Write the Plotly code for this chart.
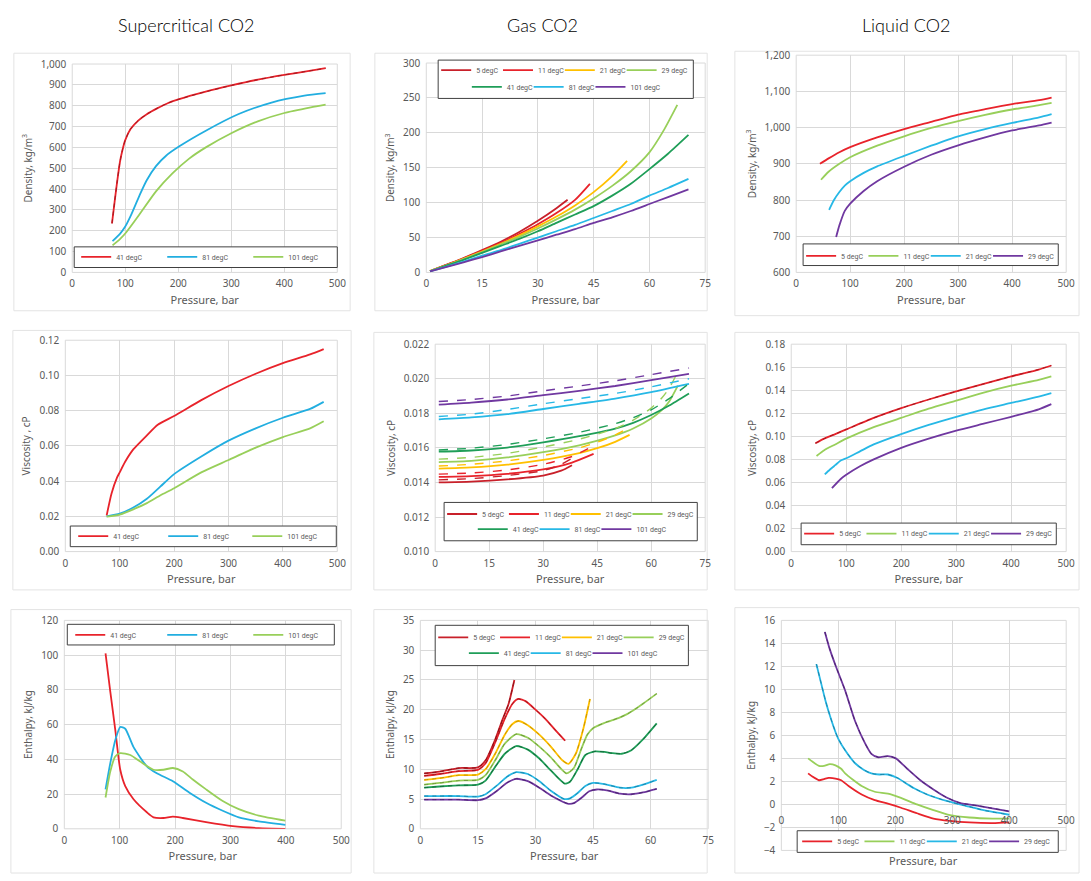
import plotly.graph_objects as go

W, H = 1091, 881

# ---------------- DATA ----------------
# Supercritical CO2 - density (kg/m3) vs pressure (bar)
sc_rho_p_41 = [75, 80, 85, 90, 95, 100, 110, 125, 140, 160, 180, 200, 250, 300, 350, 400, 450, 478]
sc_rho_41 = [235, 340, 440, 530, 590, 635, 688, 730, 758, 787, 812, 830, 866, 897, 925, 948, 968, 980]
sc_rho_p_81 = [76, 90, 100, 110, 127, 140, 158, 177, 202, 252, 314, 376, 438, 478]
sc_rho_81 = [150, 185, 220, 270, 370, 440, 510, 560, 605, 680, 760, 815, 848, 860]
sc_rho_p_101 = [76, 90, 102, 127, 158, 189, 220, 252, 300, 350, 400, 450, 478]
sc_rho_101 = [130, 160, 193, 279, 389, 475, 545, 600, 668, 725, 765, 792, 805]

# Gas CO2 - density
g_rho_p_5 = [1, 5, 10, 15, 20, 25, 30, 35, 38]
g_rho_5 = [2, 10, 20.5, 32, 44, 58, 74, 92, 104]
g_rho_p_11 = [1, 5, 10, 15, 20, 25, 30, 35, 40, 44]
g_rho_11 = [2, 10, 20, 31, 42, 55, 69, 85, 104, 127]
g_rho_p_21 = [1, 5, 10, 15, 20, 25, 30, 35, 40, 45, 50, 54]
g_rho_21 = [2, 9.5, 19.5, 30, 41, 53, 66, 80, 96, 115, 138, 160]
g_rho_p_29 = [1, 5, 10, 15, 20, 25, 30, 35, 40, 45, 50, 55, 60, 64, 67.5]
g_rho_29 = [1.8, 9.3, 19, 29, 40, 51, 63, 76, 90, 106, 124, 145, 172, 205, 240]
g_rho_p_41 = [1, 5, 10, 15, 20, 25, 30, 35, 40, 45, 50, 55, 60, 65, 70.5]
g_rho_41 = [1.7, 9, 18, 28, 38, 48, 59, 71, 83, 95, 110, 127, 148, 170, 197]
g_rho_p_81 = [1, 5, 10, 15, 20, 25, 30, 35, 40, 45, 50, 55, 60, 65, 70.5]
g_rho_81 = [1.5, 7.7, 15.5, 24, 32, 41, 50, 59, 68, 78, 88, 98, 110, 121, 134]
g_rho_p_101 = [1, 5, 10, 15, 20, 25, 30, 35, 40, 45, 50, 55, 60, 65, 70.5]
g_rho_101 = [1.4, 7.2, 14.5, 22, 30, 38, 46, 54, 62, 71, 79, 88, 98, 108, 119]

# Liquid CO2 - density
l_rho_p_5 = [44, 60, 80, 100, 150, 200, 250, 300, 350, 400, 450, 473]
l_rho_5 = [900, 915, 932, 946, 973, 996, 1016, 1036, 1051, 1065, 1076, 1083]
l_rho_p_11 = [46, 60, 80, 100, 150, 200, 250, 300, 350, 400, 450, 473]
l_rho_11 = [856, 878, 900, 918, 950, 976, 999, 1018, 1035, 1050, 1062, 1068]
l_rho_p_21 = [61, 70, 80, 90, 100, 125, 150, 200, 250, 300, 350, 400, 450, 473]
l_rho_21 = [773, 800, 822, 840, 852, 875, 893, 922, 950, 976, 996, 1013, 1028, 1037]
l_rho_p_29 = [74, 80, 90, 100, 125, 150, 200, 250, 300, 350, 400, 450, 473]
l_rho_29 = [698, 730, 770, 790, 825, 852, 892, 925, 951, 973, 992, 1006, 1014]

# Supercritical CO2 - viscosity (cP)
sc_mu_p_41 = [76, 85, 95, 100, 110, 125, 150, 170, 200, 250, 300, 350, 400, 450, 475]
sc_mu_41 = [0.0205, 0.033, 0.042, 0.045, 0.051, 0.058, 0.066, 0.072, 0.077, 0.086, 0.094, 0.101, 0.107, 0.112, 0.115]
sc_mu_p_81 = [76, 100, 125, 150, 175, 200, 250, 300, 350, 400, 450, 475]
sc_mu_81 = [0.020, 0.0215, 0.025, 0.030, 0.037, 0.044, 0.054, 0.063, 0.070, 0.076, 0.081, 0.085]
sc_mu_p_101 = [76, 100, 125, 150, 175, 200, 250, 300, 350, 400, 450, 475]
sc_mu_101 = [0.0198, 0.021, 0.024, 0.0275, 0.032, 0.036, 0.045, 0.052, 0.059, 0.065, 0.070, 0.074]

# Gas CO2 - viscosity, model A (solid) and model B (dashed)
g_mu_p_5 = [1, 10, 20, 30, 35, 38]
g_mu_5 = [0.01400, 0.01405, 0.01418, 0.01440, 0.01468, 0.01500]
g_mu_5b = [0.01415, 0.01422, 0.01440, 0.01468, 0.01505, 0.01540]
g_mu_p_11 = [1, 10, 20, 30, 38, 44]
g_mu_11 = [0.01432, 0.01437, 0.01450, 0.01475, 0.01515, 0.01565]
g_mu_11b = [0.01448, 0.01455, 0.01472, 0.01505, 0.01550, 0.01612]
g_mu_p_21 = [1, 10, 20, 30, 40, 45, 50, 54]
g_mu_21 = [0.01480, 0.01487, 0.01503, 0.01530, 0.01570, 0.01598, 0.01635, 0.01675]
g_mu_21b = [0.01495, 0.01505, 0.01525, 0.01556, 0.01600, 0.01632, 0.01675, 0.01720]
g_mu_p_29 = [1, 10, 20, 30, 40, 50, 55, 60, 63, 65, 67.4]
g_mu_29 = [0.01518, 0.01525, 0.01545, 0.01575, 0.01615, 0.01672, 0.01712, 0.01770, 0.01820, 0.01868, 0.01960]
g_mu_29b = [0.01535, 0.01545, 0.01568, 0.01605, 0.01650, 0.01712, 0.01760, 0.01830, 0.01890, 0.01945, 0.02040]
g_mu_p_41 = [1, 10, 20, 30, 40, 50, 55, 60, 65, 70.5]
g_mu_41 = [0.01578, 0.01585, 0.01602, 0.01632, 0.01668, 0.01712, 0.01745, 0.01790, 0.01845, 0.01915]
g_mu_41b = [0.01588, 0.01598, 0.01620, 0.01652, 0.01690, 0.01740, 0.01775, 0.01820, 0.01885, 0.01972]
g_mu_p_81 = [1, 10, 20, 30, 40, 50, 60, 70.5]
g_mu_81 = [0.01765, 0.01776, 0.01795, 0.01825, 0.01855, 0.01885, 0.01922, 0.01970]
g_mu_81b = [0.01782, 0.01795, 0.01822, 0.01855, 0.01885, 0.01915, 0.01953, 0.02000]
g_mu_p_101 = [1, 10, 20, 30, 40, 50, 60, 70.5]
g_mu_101 = [0.01850, 0.01862, 0.01880, 0.01905, 0.01930, 0.01958, 0.01992, 0.02028]
g_mu_101b = [0.01868, 0.01880, 0.01900, 0.01930, 0.01958, 0.01988, 0.02024, 0.02062]

# Liquid CO2 - viscosity
l_mu_p_5 = [44, 60, 80, 100, 150, 200, 250, 300, 350, 400, 450, 473]
l_mu_5 = [0.094, 0.098, 0.102, 0.106, 0.116, 0.1245, 0.132, 0.139, 0.1455, 0.152, 0.158, 0.1615]
l_mu_p_11 = [46, 60, 80, 100, 150, 200, 250, 300, 350, 400, 450, 473]
l_mu_11 = [0.083, 0.088, 0.093, 0.098, 0.108, 0.116, 0.124, 0.131, 0.138, 0.144, 0.149, 0.152]
l_mu_p_21 = [61, 70, 80, 90, 100, 125, 150, 200, 250, 300, 350, 400, 450, 473]
l_mu_21 = [0.067, 0.071, 0.075, 0.079, 0.081, 0.087, 0.093, 0.102, 0.110, 0.117, 0.1235, 0.129, 0.1345, 0.1375]
l_mu_p_29 = [74, 90, 100, 125, 150, 200, 250, 300, 350, 400, 450, 473]
l_mu_29 = [0.055, 0.063, 0.0666, 0.074, 0.080, 0.090, 0.098, 0.105, 0.111, 0.117, 0.1235, 0.128]

# Supercritical CO2 - enthalpy (kJ/kg)
sc_h_p_41 = [74.4, 83, 92, 101, 110, 125, 149, 161, 179, 196, 214, 256, 304, 351, 399]
sc_h_41 = [101, 79, 57, 34, 24.6, 17, 9.5, 6.6, 6.2, 7, 6.2, 3.8, 1.5, 0.4, 0]
sc_h_p_81 = [74.4, 83, 92, 101, 110, 125, 149, 167, 196, 226, 256, 286, 315, 351, 399]
sc_h_81 = [22.7, 37.8, 51, 58.6, 57.6, 47, 36, 32, 27.4, 20.8, 15, 10.4, 6.6, 4.3, 2.3]
sc_h_p_101 = [74.4, 83, 92, 101, 119, 137, 161, 179, 196, 214, 232, 256, 286, 315, 351, 399]
sc_h_101 = [18, 33, 41.6, 43.5, 42.5, 38.7, 34, 34, 35, 33, 28.4, 22.7, 16, 11.3, 7.6, 4.7]

# Gas CO2 - enthalpy
g_h_p_5 = [1, 5, 10, 15, 17, 19.5, 21.5, 23, 24.5]
g_h_5 = [9.3, 9.6, 10.2, 10.3, 11.5, 15.0, 18.5, 21.0, 25.0]
g_h_p_11 = [1, 5, 10, 15, 17, 19.5, 22, 24, 25.5, 27.5, 30, 32.5, 35, 37.7]
g_h_11 = [8.9, 9.2, 9.7, 9.9, 11.0, 14.5, 18.5, 21.0, 21.8, 21.4, 20.0, 18.5, 16.7, 14.8]
g_h_p_21 = [1, 5, 10, 15, 17, 19.5, 22, 24, 25.5, 28, 31, 34, 37, 38.6, 40.5, 42.5, 44.2]
g_h_21 = [8.2, 8.5, 9.0, 9.1, 10.0, 12.6, 15.8, 17.6, 18.1, 17.4, 15.8, 13.8, 11.5, 10.9, 12.6, 16.9, 21.8]
g_h_p_29 = [1, 5, 10, 15, 17, 19.5, 22, 25, 28, 31, 34, 38.1, 40, 42, 43.5, 45, 48, 51.6, 54, 56, 58, 61.6]
g_h_29 = [7.4, 7.7, 8.1, 8.2, 9.0, 11.5, 14.3, 15.9, 15.3, 13.8, 12.0, 9.3, 10.2, 13.5, 15.8, 16.9, 17.8, 18.6, 19.3, 20.1, 21.0, 22.7]
g_h_p_41 = [1, 5, 10, 15, 17, 19.5, 22, 25, 28, 31, 34, 37.6, 39, 41, 43, 45.5, 48, 50, 52.5, 55, 58, 61.6]
g_h_41 = [6.9, 7.1, 7.3, 7.4, 8.1, 10.4, 12.6, 13.9, 13.3, 11.8, 9.8, 7.6, 7.9, 10.0, 12.4, 13.0, 12.9, 12.7, 12.6, 13.2, 15.0, 17.7]
g_h_p_81 = [1, 5, 10, 15, 17, 20, 22.5, 25, 28, 31, 34, 37.5, 39, 41, 43, 45, 48, 52, 55, 58, 61.6]
g_h_81 = [5.5, 5.5, 5.5, 5.4, 5.8, 7.3, 8.7, 9.5, 9.2, 8.0, 6.4, 5.0, 5.1, 6.0, 7.2, 7.7, 7.5, 6.9, 6.9, 7.4, 8.2]
g_h_p_101 = [1, 5, 10, 15, 17, 20, 22.5, 25, 28, 31, 34, 38.6, 40, 42, 44, 46, 49, 52, 55, 58, 61.6]
g_h_101 = [4.9, 4.9, 4.9, 4.8, 5.1, 6.4, 7.7, 8.4, 8.0, 6.9, 5.6, 4.2, 4.3, 5.2, 6.3, 6.6, 6.4, 5.9, 5.8, 6.1, 6.7]

# Liquid CO2 - enthalpy
l_h_p_5 = [47, 55, 66, 75, 83, 95, 105, 118, 141, 164, 187, 210, 238, 267, 296, 330, 371, 400]
l_h_5 = [2.7, 2.4, 2.1, 2.2, 2.3, 2.25, 2.1, 1.6, 0.86, 0.37, 0.06, -0.29, -0.77, -1.23, -1.43, -1.57, -1.63, -1.57]
l_h_p_11 = [47, 55, 66, 75, 85, 95, 105, 112, 141, 164, 187, 210, 238, 267, 296, 330, 371, 400]
l_h_11 = [4.0, 3.7, 3.35, 3.35, 3.5, 3.4, 3.1, 2.7, 1.6, 1.1, 0.94, 0.57, 0.0, -0.5, -0.94, -1.14, -1.23, -1.23]
l_h_p_21 = [61.5, 70, 77.6, 86, 95, 100, 112, 129, 145, 158, 172, 187, 204, 220, 233, 256, 290, 325, 359, 400]
l_h_21 = [12.2, 10.5, 9.0, 7.6, 6.3, 5.7, 4.7, 3.6, 3.0, 2.7, 2.6, 2.6, 2.3, 1.8, 1.4, 0.86, 0.3, -0.14, -0.55, -0.9]
l_h_p_29 = [76.4, 85, 95, 112, 129, 147, 158, 170, 187, 201, 221, 244, 267, 290, 313, 348, 400]
l_h_29 = [15.0, 13.5, 12.1, 9.9, 7.3, 5.3, 4.4, 4.1, 4.2, 4.0, 3.1, 2.1, 1.3, 0.6, 0.14, -0.14, -0.6]

col_titles = ["Supercritical CO2", "Gas CO2", "Liquid CO2"]
x_title = "Pressure, bar"

# ---------------- STYLE ----------------
C = {
    "red": "#E8232B", "dred": "#C8202A", "blue": "#22AEE0", "lgreen": "#98CF5A",
    "yellow": "#FFC000", "green": "#1F9E58", "cyan": "#27B8E6", "purple": "#7038A0",
}
# darker shades used for the overlaid (second model) dashed curves
D = {
    "red": "#A01820", "dred": "#8A1218", "blue": "#1A7FA6", "lgreen": "#6E9A3C",
    "yellow": "#C89400", "green": "#146B3B", "cyan": "#1C86AA", "purple": "#4C2470",
}
GRAY = "#595959"
GRID = "#D9D9D9"
TICKFONT = dict(family="Noto Sans", size=10, color=GRAY)
TITLEFONT = dict(family="Noto Sans", size=10, color=GRAY)


def fx(px):
    return px / W


def fy(py):
    return 1 - py / H


panels = {
    1: dict(x=(70, 338), y=(57, 269), xr=[0, 500], xd=100, yr=[0, 1000], yd=100, yf=",", yt="Density, kg/m<sup>3</sup>"),
    2: dict(x=(428, 710), y=(56, 269), xr=[0, 75], xd=15, yr=[0, 300], yd=50, yf="", yt="Density, kg/m<sup>3</sup>"),
    3: dict(x=(802, 1075), y=(48, 269), xr=[0, 500], xd=100, yr=[600, 1200], yd=100, yf=",", yt="Density, kg/m<sup>3</sup>"),
    4: dict(x=(63, 338), y=(338, 553), xr=[0, 500], xd=100, yr=[0, 0.12], yd=0.02, yf=".2f", yt="Viscosity , cP"),
    5: dict(x=(437, 710), y=(342, 553), xr=[0, 75], xd=15, yr=[0.010, 0.022], yd=0.002, yf=".3f", yt="Viscosity, cP"),
    6: dict(x=(797, 1075), y=(342, 553), xr=[0, 500], xd=100, yr=[0, 0.18], yd=0.02, yf=".2f", yt="Viscosity, cP"),
    7: dict(x=(62, 342), y=(623, 835), xr=[0, 500], xd=100, yr=[0, 120], yd=20, yf="", yt="Enthalpy, kJ/kg"),
    8: dict(x=(422, 713), y=(623, 835), xr=[0, 75], xd=15, yr=[0, 35], yd=5, yf="", yt="Enthalpy, kJ/kg"),
    9: dict(x=(787, 1075), y=(623, 857), xr=[0, 500], xd=100, yr=[-4, 16], yd=2, yf="", yt="Enthalpy, kJ/kg"),
}

# legend rows per panel: (row centre y in px, [x px of each legend item])
legend_rows = {
    1: [(253.5, [74, 161, 248])],
    2: [(63.5, [438, 500.5, 563, 625.5]), (80.5, [469, 531.5, 594])],
    3: [(252.5, [807, 870, 933, 996])],
    4: [(537.5, [71, 162, 247])],
    5: [(515, [444, 506.5, 569, 631.5]), (530.5, [475, 537.5, 600])],
    6: [(535, [805, 868, 931, 994])],
    7: [(638, [68, 161, 248])],
    8: [(640.5, [435, 497.5, 560, 622.5]), (656.5, [466, 528.5, 591])],
    9: [(848, [803, 866, 929, 992])],
}
legend_slots = {i: [(y, x) for y, xs in rows for x in xs] for i, rows in legend_rows.items()}
legend_counter = [0]
layout_legends = {}

fig = go.Figure()


def ax(i, kind):
    return kind if i == 1 else f"{kind}{i}"


def new_legend(i, k):
    legend_counter[0] += 1
    n = legend_counter[0]
    key = "legend" if n == 1 else f"legend{n}"
    y, x = legend_slots[i][k]
    layout_legends[key] = dict(
        x=fx(x), y=fy(y - 15), xanchor="left", yanchor="top", xref="paper", yref="paper",
        orientation="h", bgcolor="rgba(0,0,0,0)", borderwidth=0,
        font=dict(family="Roboto", size=7, color=GRAY), itemwidth=30,
    )
    return key


def add(i, p, v, name, color, k=None, dash=None, width=1.8):
    lg = new_legend(i, k) if k is not None else None
    fig.add_trace(go.Scatter(
        x=p, y=v, name=name, mode="lines",
        xaxis=ax(i, "x"), yaxis=ax(i, "y"),
        line=dict(color=color, width=width, shape="spline", smoothing=0.6, dash=dash),
        showlegend=lg is not None,
        legend=lg if lg else "legend",
        hoverinfo="skip",
    ))


def overlay(i, p, v, name, ckey):
    # second model's curve, drawn dashed on top of the first
    add(i, p, v, name, D[ckey], None, dash="4px,4px", width=1.0)


# Panel 1
add(1, sc_rho_p_41, sc_rho_41, "41 degC", C["red"], 0)
add(1, sc_rho_p_81, sc_rho_81, "81 degC", C["blue"], 1)
add(1, sc_rho_p_101, sc_rho_101, "101 degC", C["lgreen"], 2)
overlay(1, sc_rho_p_41, sc_rho_41, "41 degC", "red")
# Panel 2
add(2, g_rho_p_5, g_rho_5, "5 degC", C["dred"], 0)
add(2, g_rho_p_11, g_rho_11, "11 degC", C["red"], 1)
add(2, g_rho_p_21, g_rho_21, "21 degC", C["yellow"], 2)
add(2, g_rho_p_29, g_rho_29, "29 degC", C["lgreen"], 3)
add(2, g_rho_p_41, g_rho_41, "41 degC", C["green"], 4)
add(2, g_rho_p_81, g_rho_81, "81 degC", C["cyan"], 5)
add(2, g_rho_p_101, g_rho_101, "101 degC", C["purple"], 6)
# Panel 3
add(3, l_rho_p_5, l_rho_5, "5 degC", C["red"], 0)
add(3, l_rho_p_11, l_rho_11, "11 degC", C["lgreen"], 1)
add(3, l_rho_p_21, l_rho_21, "21 degC", C["cyan"], 2)
add(3, l_rho_p_29, l_rho_29, "29 degC", C["purple"], 3)
# Panel 4
add(4, sc_mu_p_41, sc_mu_41, "41 degC", C["red"], 0)
add(4, sc_mu_p_81, sc_mu_81, "81 degC", C["blue"], 1)
add(4, sc_mu_p_101, sc_mu_101, "101 degC", C["lgreen"], 2)
# Panel 5
gas_mu = [
    (g_mu_p_5, g_mu_5, g_mu_5b, "5 degC", "dred"),
    (g_mu_p_11, g_mu_11, g_mu_11b, "11 degC", "red"),
    (g_mu_p_21, g_mu_21, g_mu_21b, "21 degC", "yellow"),
    (g_mu_p_29, g_mu_29, g_mu_29b, "29 degC", "lgreen"),
    (g_mu_p_41, g_mu_41, g_mu_41b, "41 degC", "green"),
    (g_mu_p_81, g_mu_81, g_mu_81b, "81 degC", "cyan"),
    (g_mu_p_101, g_mu_101, g_mu_101b, "101 degC", "purple"),
]
for k, (p, a, b, n, c) in enumerate(gas_mu):
    add(5, p, a, n, C[c], k)
for p, a, b, n, c in gas_mu:
    add(5, p, b, n, C[c], None, dash="dash", width=1.4)
# Panel 6
add(6, l_mu_p_5, l_mu_5, "5 degC", C["red"], 0)
add(6, l_mu_p_11, l_mu_11, "11 degC", C["lgreen"], 1)
add(6, l_mu_p_21, l_mu_21, "21 degC", C["cyan"], 2)
add(6, l_mu_p_29, l_mu_29, "29 degC", C["purple"], 3)
overlay(6, l_mu_p_5, l_mu_5, "5 degC", "red")
# Panel 7
add(7, sc_h_p_41, sc_h_41, "41 degC", C["red"], 0)
add(7, sc_h_p_81, sc_h_81, "81 degC", C["blue"], 1)
add(7, sc_h_p_101, sc_h_101, "101 degC", C["lgreen"], 2)
# Panel 8
gas_h = [
    (g_h_p_5, g_h_5, "5 degC", "dred"),
    (g_h_p_11, g_h_11, "11 degC", "red"),
    (g_h_p_21, g_h_21, "21 degC", "yellow"),
    (g_h_p_29, g_h_29, "29 degC", "lgreen"),
    (g_h_p_41, g_h_41, "41 degC", "green"),
    (g_h_p_81, g_h_81, "81 degC", "cyan"),
    (g_h_p_101, g_h_101, "101 degC", "purple"),
]
for k, (p, v, n, c) in enumerate(gas_h):
    add(8, p, v, n, C[c], k)
for p, v, n, c in gas_h:
    overlay(8, p, v, n, c)
# Panel 9
liq_h = [
    (l_h_p_5, l_h_5, "5 degC", "red"),
    (l_h_p_11, l_h_11, "11 degC", "lgreen"),
    (l_h_p_21, l_h_21, "21 degC", "cyan"),
    (l_h_p_29, l_h_29, "29 degC", "purple"),
]
for k, (p, v, n, c) in enumerate(liq_h):
    add(9, p, v, n, C[c], k)
for p, v, n, c in liq_h[2:]:
    overlay(9, p, v, n, c)

layout = dict(
    width=W, height=H, margin=dict(l=0, r=0, t=0, b=0, pad=0),
    paper_bgcolor="white", plot_bgcolor="white",
    font=dict(family="Noto Sans", size=10, color=GRAY),
    hovermode=False,
)
layout.update(layout_legends)

shapes = []
annotations = []

for i, pp in panels.items():
    xa = dict(
        domain=[fx(pp["x"][0]), fx(pp["x"][1])], range=pp["xr"], dtick=pp["xd"], tick0=0,
        showgrid=True, gridcolor=GRID, gridwidth=1, zeroline=False, showline=False,
        tickfont=TICKFONT, ticks="", ticklabelstandoff=4,
        anchor=ax(i, "y"), fixedrange=True,
    )
    if i != 9:
        xa["title"] = dict(text=x_title, font=dict(family="Noto Sans", size=11, color=GRAY), standoff=6)
    else:
        yr = pp["yr"]
        frac = (0 - yr[0]) / (yr[1] - yr[0])
        y0p, y1p = fy(pp["y"][1]), fy(pp["y"][0])
        xa["anchor"] = "free"
        xa["position"] = y0p + frac * (y1p - y0p)
        xa["ticklabelstandoff"] = 9
    ya = dict(
        domain=[fy(pp["y"][1]), fy(pp["y"][0])], range=pp["yr"], dtick=pp["yd"], tick0=pp["yr"][0],
        showgrid=True, gridcolor=GRID, gridwidth=1, zeroline=False, showline=False,
        tickfont=TICKFONT, ticks="", ticklabelstandoff=5, tickformat=pp["yf"],
        anchor=ax(i, "x"), fixedrange=True,
        title=dict(text=pp["yt"], font=TITLEFONT, standoff=6),
    )
    layout[ax(i, "xaxis")] = xa
    layout[ax(i, "yaxis")] = ya
    shapes.append(dict(type="rect", xref=f"{ax(i, 'x')} domain", yref=f"{ax(i, 'y')} domain",
                       x0=0, x1=1, y0=0, y1=1, line=dict(color=GRID, width=1), layer="below"))

# chart frames
frames = [(11, 46, 351, 308), (376, 46, 712, 308), (740, 44, 1088, 313),
          (10, 328, 352, 592), (375, 330, 712, 592), (740, 330, 1088, 592),
          (8, 612, 352, 880), (375, 612, 712, 880), (740, 610, 1088, 880)]
for x0, y0, x1, y1 in frames:
    shapes.append(dict(type="rect", xref="paper", yref="paper", x0=fx(x0), x1=fx(x1), y0=fy(y1), y1=fy(y0),
                       line=dict(color="#E3E3E3", width=1), layer="below"))

# legend boxes
boxes = [(72, 243, 338, 264), (440, 53, 698, 92), (809, 240, 1067, 262),
         (68, 527, 337, 548), (446, 503, 702, 542), (807, 524, 1065, 546),
         (65, 627, 335, 648), (437, 628, 693, 669), (803, 837, 1067, 859)]
for x0, y0, x1, y1 in boxes:
    shapes.append(dict(type="rect", xref="paper", yref="paper", x0=fx(x0), x1=fx(x1), y0=fy(y1), y1=fy(y0),
                       line=dict(color="#404040", width=1), fillcolor="white", layer="above"))

# column titles
for t, cx in zip(col_titles, [186, 545, 913]):
    annotations.append(dict(text=t, x=fx(cx), y=fy(17), xref="paper", yref="paper",
                            showarrow=False, xanchor="center", yanchor="middle",
                            font=dict(family="Lato", size=18, color="#000000", weight=300)))
# x title for the liquid enthalpy panel (its axis crosses at zero)
annotations.append(dict(text=x_title, x=fx(931), y=fy(867), xref="paper", yref="paper",
                        showarrow=False, xanchor="center", yanchor="middle",
                        font=dict(family="Noto Sans", size=11, color=GRAY)))

layout["shapes"] = shapes
layout["annotations"] = annotations
fig.update_layout(**layout)

fig.write_html("out.html")
